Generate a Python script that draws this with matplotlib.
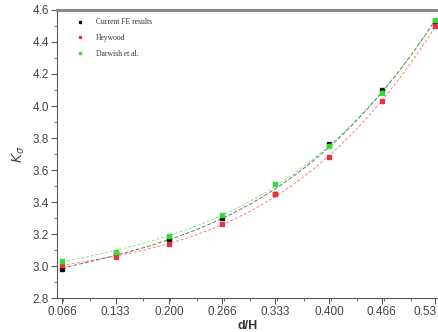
import numpy as np
import matplotlib
matplotlib.use('Agg')
import matplotlib.pyplot as plt
import matplotlib.transforms as mtransforms
from matplotlib.ticker import MultipleLocator

dh = [0.066, 0.133, 0.200, 0.266, 0.333, 0.400, 0.466, 0.533]
xtick_labels = ['0.066', '0.133', '0.200', '0.266', '0.333', '0.400', '0.466', '0.53']
current_fe = [2.98, 3.08, 3.17, 3.30, 3.45, 3.76, 4.10, 4.53]
heywood = [3.01, 3.055, 3.14, 3.26, 3.45, 3.68, 4.03, 4.50]
darwish = [3.03, 3.09, 3.19, 3.32, 3.51, 3.75, 4.08, 4.54]

plt.rcParams['font.family'] = ['Liberation Sans', 'DejaVu Sans']
fig = plt.figure(figsize=(4.39, 3.32), dpi=100)
ax = fig.add_axes([0.13, 0.102, 0.87, 0.868])

series = [(current_fe, '#111111', 'Current FE results', (0, (4, 2))),
          (heywood, '#e8333c', 'Heywood', (0, (3, 2))),
          (darwish, '#33dd33', 'Darwish et al.', (0, (3, 2)))]
xs = np.linspace(dh[0], dh[-1], 100)
for vals, col, lab, ls in series:
    # cubic fit through the points, like the dashed trend lines
    p = np.polyfit(dh, vals, 3)
    ax.plot(xs, np.polyval(p, xs), color=col, lw=0.7, ls=ls, alpha=0.6)
    ax.plot(dh, vals, 's', color=col, ms=2.8, label=lab)

ax.set_xlim(0.0598, 0.5375)
ax.set_ylim(2.8, 4.6)
ax.set_xticks(dh)
ax.set_xticklabels(xtick_labels)
ax.xaxis.set_minor_locator(MultipleLocator(0.0335))
ax.set_yticks(np.arange(2.8, 4.61, 0.2))
ax.yaxis.set_minor_locator(MultipleLocator(0.1))
ax.tick_params(which='both', direction='out', colors='#555555', labelcolor='#444444', labelsize=8.5)
ax.tick_params(which='major', length=4, pad=2)
ax.tick_params(which='minor', length=2.5)
for s in ['left', 'bottom']:
    ax.spines[s].set_color('#555555')
ax.spines['top'].set_color('#888888')
ax.spines['top'].set_linewidth(2.2)
ax.spines['right'].set_visible(False)

# last label sits at the right edge, nudge it in so it is not clipped
last = ax.get_xticklabels()[-1]
last.set_transform(last.get_transform() + mtransforms.ScaledTranslation(-0.1, 0, fig.dpi_scale_trans))

ax.set_xlabel('d/H', fontweight='bold', fontsize=9, color='#333333', labelpad=0)
ax.xaxis.set_label_coords(0.5, -0.075)
ax.set_ylabel(r'$K_\sigma$', fontsize=10, color='#444444', labelpad=4)

leg = ax.legend(loc='upper left', bbox_to_anchor=(0.03, 0.995), frameon=False,
                prop={'family': 'Liberation Serif', 'size': 5.5},
                handlelength=1.2, markerscale=0.7, labelspacing=1.0, handletextpad=1.5)
for t in leg.get_texts():
    t.set_color('#333333')

plt.savefig('out.png', dpi=100)
